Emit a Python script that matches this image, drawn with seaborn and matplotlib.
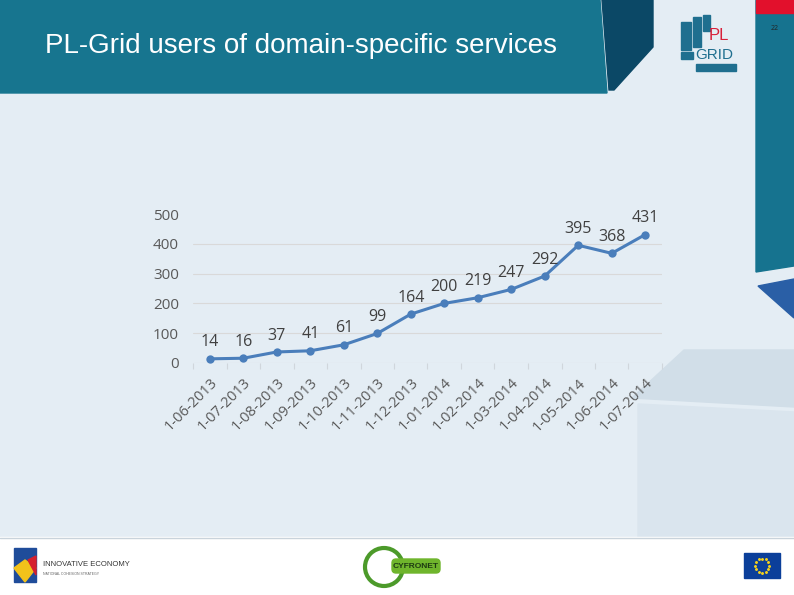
import numpy as np
import pandas as pd
import seaborn as sns
import matplotlib.pyplot as plt
from matplotlib.patches import Polygon, Rectangle, Circle, FancyBboxPatch

# data
months = ["1-06-2013", "1-07-2013", "1-08-2013", "1-09-2013", "1-10-2013",
          "1-11-2013", "1-12-2013", "1-01-2014", "1-02-2014", "1-03-2014",
          "1-04-2014", "1-05-2014", "1-06-2014", "1-07-2014"]
users = [14, 16, 37, 41, 61, 99, 164, 200, 219, 247, 292, 395, 368, 431]
y_ticks = [0, 100, 200, 300, 400, 500]

title = "PL-Grid users of domain-specific services"

sns.set_theme(style="white")
plt.rcParams["font.family"] = ["Open Sans", "DejaVu Sans"]

W, H = 794, 595
fig = plt.figure(figsize=(W / 100, H / 100), dpi=100)

# ----------------------------
# slide background (pixel coordinates, y down)
# ----------------------------
bg = fig.add_axes([0, 0, 1, 1])
bg.set_xlim(0, W)
bg.set_ylim(H, 0)
bg.axis("off")
bg.add_patch(Rectangle((0, 0), W, H, color="#e4edf4", zorder=0))

# header band + dark wedge
bg.add_patch(Polygon([(0, 0), (600, 0), (607, 93), (0, 93)], color="#17758f", zorder=1))
bg.add_patch(Polygon([(602, 0), (653, 0), (653, 47), (614, 90), (609, 90)], color="#0b4866", zorder=1))

# right bar, red strip, blue triangle
bg.add_patch(Polygon([(756, 0), (794, 0), (794, 266), (756, 272)], color="#16738f", zorder=1))
bg.add_patch(Rectangle((756, 0), 38, 13, color="#e2102c", zorder=2))
bg.add_patch(Polygon([(758, 286), (794, 279), (794, 318)], color="#2a5fa6", zorder=1))

# light shapes at bottom right
bg.add_patch(Polygon([(632, 398), (684, 350), (794, 350), (794, 407)], color="#d1dee8", zorder=1))
bg.add_patch(Polygon([(638, 404), (794, 412), (794, 537), (638, 537)], color="#dae5ee", zorder=1))

# footer
bg.add_patch(Rectangle((0, 537), W, H - 537, color="#ffffff", zorder=2))
bg.plot([0, W], [537.5, 537.5], color="#c9d3db", lw=1, zorder=3)

bg.text(45, 46, title, color="white", fontsize=20, family="Liberation Sans",
        ha="left", va="center", zorder=4)
bg.text(775, 28, "22", color="#222222", fontsize=5, ha="center", va="center", zorder=4)

# PL-Grid logo (rough)
for x0, y0, w, h in [(681, 22, 10, 28), (693, 17, 8, 30), (703, 15, 7, 16), (681, 52, 12, 7), (696, 64, 40, 7)]:
    bg.add_patch(Rectangle((x0, y0), w, h, color="#1f6f8f", zorder=3))
bg.text(719, 36, "PL", color="#d8203a", fontsize=12, ha="center", va="center",
        family="Liberation Sans", zorder=4)
bg.text(714, 55, "GRID", color="#1f6f8f", fontsize=11, ha="center", va="center",
        family="Liberation Sans", zorder=4)

# footer logos
bg.add_patch(Rectangle((14, 548), 22, 34, color="#1f4c9a", zorder=3))
bg.add_patch(Polygon([(14, 568), (25, 560), (36, 568), (25, 582)], color="#f2c21b", zorder=4))
bg.add_patch(Polygon([(28, 560), (36, 556), (36, 575)], color="#d5202e", zorder=4))
bg.text(43, 565, "INNOVATIVE ECONOMY", fontsize=5.5, color="#333333", ha="left", va="center",
        family="Liberation Sans", zorder=4)
bg.text(43, 574, "NATIONAL COHESION STRATEGY", fontsize=2.5, color="#666666", ha="left",
        va="center", family="Liberation Sans", zorder=4)

bg.add_patch(Circle((384, 567), 19, facecolor="none", edgecolor="#4c9a2a", lw=3, zorder=3))
bg.add_patch(FancyBboxPatch((392, 559), 48, 14, boxstyle="round,pad=0,rounding_size=4",
                            color="#6fb52c", zorder=4))
bg.text(416, 566, "CYFRONET", fontsize=6, color="#1d3b12", weight="bold", ha="center",
        va="center", family="Liberation Sans", zorder=5)

bg.add_patch(Rectangle((744, 553), 36, 25, color="#0b3f9a", zorder=3))
ang = np.linspace(0, 2 * np.pi, 12, endpoint=False)
bg.scatter(762 + 7 * np.cos(ang), 565.5 + 7 * np.sin(ang), s=1.2, color="#f5d21b", zorder=4)

# ----------------------------
# line chart
# ----------------------------
df = pd.DataFrame({"month": months, "users": users})
ax = fig.add_axes([193 / W, 1 - 363 / H, (662 - 193) / W, (363 - 214) / H])
ax.set_facecolor("none")

sns.lineplot(data=df, x="month", y="users", ax=ax, color="#4a7ebb", lw=2.2,
             marker="o", markersize=6, markeredgewidth=0, sort=False)

for i, v in enumerate(users):
    ax.annotate(str(v), (i, v), xytext=(0, 6), textcoords="offset points",
                ha="center", va="bottom", fontsize=11.5, color="#404040")

ax.set_xlim(-0.5, len(months) - 0.5)
ax.set_ylim(0, 500)
ax.set_yticks(y_ticks)
ax.set_xlabel("")
ax.set_ylabel("")
ax.grid(axis="y", color="#d9d9d9", lw=0.8)
ax.yaxis.get_gridlines()[-1].set_visible(False)
for s in ax.spines.values():
    s.set_visible(False)

ax.tick_params(axis="y", length=0, pad=10, labelsize=11, labelcolor="#595959")
ax.set_xticks(range(len(months)))
ax.set_xticklabels(months, rotation=45, ha="right", rotation_mode="anchor")
ax.tick_params(axis="x", length=0, pad=9, labelsize=10.5, labelcolor="#595959")
ax.set_xticks(np.arange(-0.5, len(months), 1), minor=True)
ax.tick_params(axis="x", which="minor", length=4, color="#d0d6dc", width=0.8, bottom=True)

fig.savefig("out.png", dpi=100)
